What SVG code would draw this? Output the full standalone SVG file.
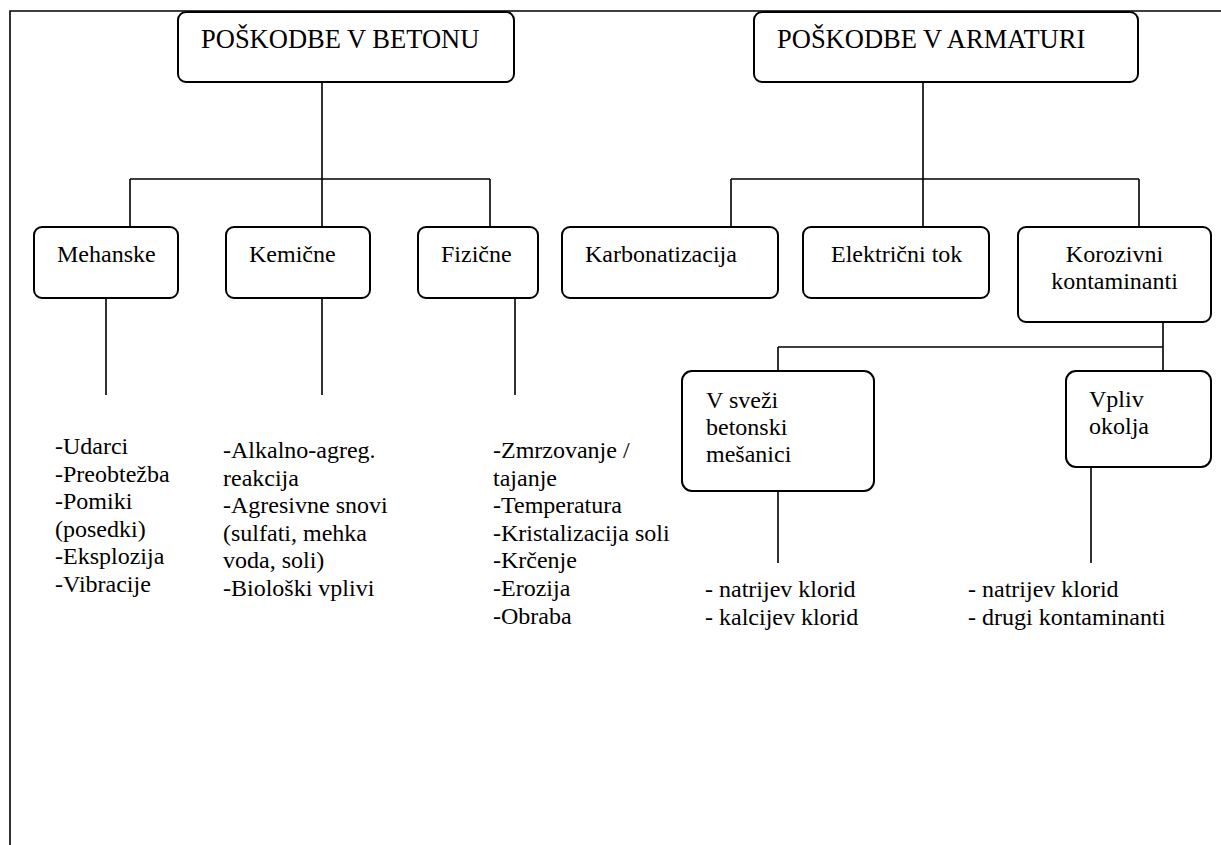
<svg xmlns="http://www.w3.org/2000/svg" width="1221" height="845" viewBox="0 0 1221 845">
<style>
  .box { fill: #ffffff; stroke: #000000; stroke-width: 2; }
  .ln { stroke: #000000; stroke-width: 1.6; fill: none; }
  .frame { stroke: #000000; stroke-width: 1.6; fill: none; }
</style>
<rect x="0" y="0" width="1221" height="845" fill="#ffffff"/>
<path class="frame" d="M10,845 L10,11 L1221,11"/>
<g id="connectors">
  <path class="ln" d="M322,82 L322,227 M130,179 L490,179 M130,179 L130,227 M490,179 L490,227"/>
  <path class="ln" d="M923,82 L923,227 M731,179 L1139,179 M731,179 L731,227 M1139,179 L1139,227"/>
  <path class="ln" d="M1163,322 L1163,371 M778,347 L1163,347 M778,347 L778,371"/>
  <path class="ln" d="M106,298 L106,395 M322,298 L322,395 M515,298 L515,395"/>
  <path class="ln" d="M778,491 L778,563 M1091,467 L1091,563"/>
</g>
<g font-family="Liberation Serif, serif" font-size="24" fill="#000000">
<g id="n-beton">
  <rect class="box" x="178" y="12" width="336" height="70" rx="8"/>
  <text x="201" y="48" font-size="26.5">POŠKODBE V BETONU</text>
</g>
<g id="n-armatura">
  <rect class="box" x="754" y="12" width="384" height="70" rx="8"/>
  <text x="777" y="48" font-size="26.5">POŠKODBE V ARMATURI</text>
</g>
<g id="n-mehanske">
  <rect class="box" x="34" y="227" width="144" height="71" rx="8"/>
  <text x="57" y="262">Mehanske</text>
</g>
<g id="n-kemicne">
  <rect class="box" x="226" y="227" width="144" height="71" rx="8"/>
  <text x="249" y="262">Kemične</text>
</g>
<g id="n-fizicne">
  <rect class="box" x="418" y="227" width="120" height="71" rx="8"/>
  <text x="441" y="262">Fizične</text>
</g>
<g id="n-karbonatizacija">
  <rect class="box" x="562" y="227" width="216" height="71" rx="8"/>
  <text x="585" y="262">Karbonatizacija</text>
</g>
<g id="n-elektricni">
  <rect class="box" x="803" y="227" width="186" height="71" rx="8"/>
  <text x="831" y="262">Električni tok</text>
</g>
<g id="n-korozivni">
  <rect class="box" x="1018" y="227" width="193" height="95" rx="8"/>
  <text x="1114.5" y="262" text-anchor="middle">Korozivni</text>
  <text x="1114.5" y="289" text-anchor="middle">kontaminanti</text>
</g>
<g id="n-svezi">
  <rect class="box" x="682" y="371" width="192" height="120" rx="10"/>
  <text x="706" y="408">V sveži</text>
  <text x="706" y="435">betonski</text>
  <text x="706" y="462">mešanici</text>
</g>
<g id="n-okolje">
  <rect class="box" x="1066" y="371" width="145" height="96" rx="10"/>
  <text x="1089" y="407">Vpliv</text>
  <text x="1089" y="434">okolja</text>
</g>
<g id="list-mehanske">
  <text x="55" y="454">-Udarci</text>
  <text x="55" y="481.6">-Preobtežba</text>
  <text x="55" y="509.2">-Pomiki</text>
  <text x="55" y="536.8">(posedki)</text>
  <text x="55" y="564.4">-Eksplozija</text>
  <text x="55" y="592">-Vibracije</text>
</g>
<g id="list-kemicne">
  <text x="223" y="458">-Alkalno-agreg.</text>
  <text x="223" y="485.6">reakcija</text>
  <text x="223" y="513.2">-Agresivne snovi</text>
  <text x="223" y="540.8">(sulfati, mehka</text>
  <text x="223" y="568.4">voda, soli)</text>
  <text x="223" y="596">-Biološki vplivi</text>
</g>
<g id="list-fizicne">
  <text x="493" y="458">-Zmrzovanje /</text>
  <text x="493" y="485.6">tajanje</text>
  <text x="493" y="513.2">-Temperatura</text>
  <text x="493" y="540.8">-Kristalizacija soli</text>
  <text x="493" y="568.4">-Krčenje</text>
  <text x="493" y="596">-Erozija</text>
  <text x="493" y="623.6">-Obraba</text>
</g>
<g id="list-svezi">
  <text x="705" y="597">- natrijev klorid</text>
  <text x="705" y="625">- kalcijev klorid</text>
</g>
<g id="list-okolje">
  <text x="968" y="597">- natrijev klorid</text>
  <text x="968" y="625">- drugi kontaminanti</text>
</g>
</g>
</svg>
